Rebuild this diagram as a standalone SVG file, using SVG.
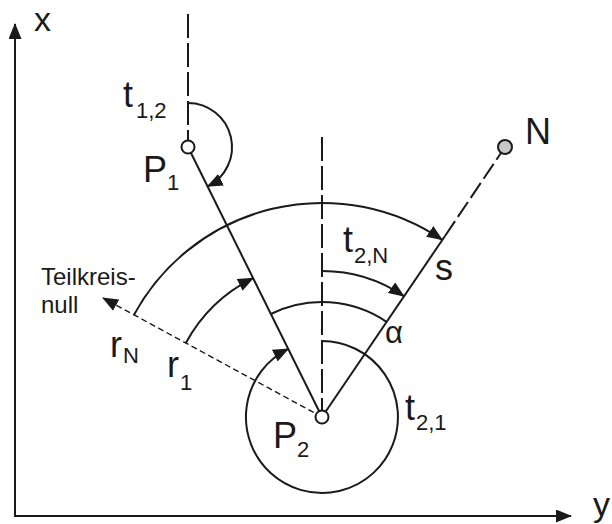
<svg xmlns="http://www.w3.org/2000/svg" width="612" height="524" viewBox="0 0 612 524">
<style>
.ln{fill:none;stroke:#1a1a1a;stroke-width:2}
.dl{fill:none;stroke:#1a1a1a;stroke-width:2;stroke-dasharray:24 5}
.ds{fill:none;stroke:#1a1a1a;stroke-width:1.4;stroke-dasharray:6 3.5}
.pt{fill:#fff;stroke:#1a1a1a;stroke-width:2}
.t{font-family:"Liberation Sans",Arial,sans-serif;font-size:36px;fill:#1a1a1a}
.s{font-family:"Liberation Sans",Arial,sans-serif;font-size:22px;fill:#1a1a1a}
.m{font-family:"Liberation Sans",Arial,sans-serif;font-size:24px;fill:#1a1a1a}
</style>
<defs>
<marker id="ah" markerUnits="userSpaceOnUse" markerWidth="17" markerHeight="14" refX="15" refY="6.5" orient="auto">
<path d="M0,0 L16,6.5 L0,13 z" fill="#1a1a1a"/>
</marker>
</defs>
<g id="axes">
<path class="ln" d="M15,517 L15,24" marker-end="url(#ah)"/>
<path class="ln" d="M14,516 L571,516" marker-end="url(#ah)"/>
<text class="t" x="34" y="31" style="font-size:34px">x</text>
<text class="t" x="593" y="516" style="font-size:34px">y</text>
</g>
<g id="connectors">
<path class="dl" d="M188,14 L188,140"/>
<path class="dl" d="M322,137 L322,410"/>
<path class="ln" d="M188,147 L322,417"/>
<path class="ln" d="M322,417 L445,236"/>
<path class="dl" style="stroke-dasharray:18 5" d="M445,236 L505,147"/>
<path class="ds" d="M322,417 L103,298" marker-end="url(#ah)"/>
<path class="ln" d="M188,103 A44,44 0 0 1 207.6,186.4" marker-end="url(#ah)"/>
<path class="ln" d="M322,341 A76,76 0 1 1 288.2,348.9" marker-end="url(#ah)"/>
<path class="ln" d="M270.9,314 A115,115 0 0 1 386.5,321.8"/>
<path class="ln" d="M322,271 A146,146 0 0 1 403.9,296.1" marker-end="url(#ah)"/>
<path class="ln" d="M185.7,343.3 A155,155 0 0 1 253.1,278.2" marker-end="url(#ah)"/>
<path class="ln" d="M133.8,315.2 A214,214 0 0 1 442.1,239.8" marker-end="url(#ah)"/>
</g>
<g id="P1">
<circle class="pt" cx="188" cy="147" r="6.5"/>
<text class="t" x="143" y="182">P</text>
<text class="s" x="167" y="190">1</text>
</g>
<g id="P2">
<circle class="pt" cx="322" cy="417" r="6.5"/>
<text class="t" x="273" y="448">P</text>
<text class="s" x="297" y="457">2</text>
</g>
<g id="N">
<circle cx="505" cy="147" r="7" fill="#c8c8c8" stroke="#1a1a1a" stroke-width="2"/>
<text class="t" x="525" y="144">N</text>
</g>
<g id="labels">
<text class="t" x="123" y="107">t</text>
<text class="s" x="136" y="118">1,2</text>
<text class="t" x="343" y="252">t</text>
<text class="s" x="354" y="263">2,N</text>
<text class="t" x="435" y="280">s</text>
<text class="m" x="41" y="285">Teilkreis-</text>
<text class="m" x="41" y="313">null</text>
<text class="t" x="110" y="357">r</text>
<text class="s" x="123" y="363">N</text>
<text class="t" x="167" y="377">r</text>
<text class="s" x="180" y="390">1</text>
<text class="t" x="405" y="420">t</text>
<text class="s" x="416" y="430">2,1</text>
<text class="t" x="385" y="343" style="font-size:31px">α</text>
</g>
</svg>
